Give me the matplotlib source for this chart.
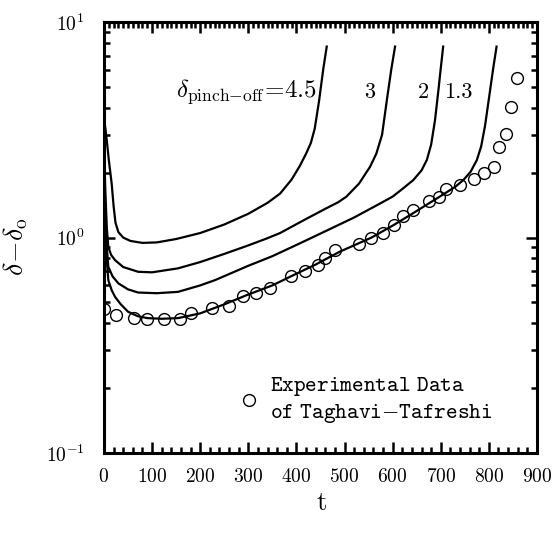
#!/usr/bin/env python3
"""Bubble growth delta - delta_o versus t, model curves and experimental points."""

import matplotlib

matplotlib.use("Agg")
import matplotlib.pyplot as plt  # noqa: E402
from matplotlib.ticker import LogLocator, MultipleLocator, NullFormatter  # noqa: E402

plt.rcParams["mathtext.fontset"] = "cm"
plt.rcParams["font.family"] = "serif"
plt.rcParams["font.serif"] = ["cmr10", "DejaVu Serif"]
plt.rcParams["axes.formatter.use_mathtext"] = True

# model curves, one per pinch-off value
t_45 = [0, 3, 6, 10, 16, 20, 24, 30, 40, 55, 80, 110, 150, 200, 250, 300, 340, 366,
        390, 407, 420, 430, 438, 447, 456, 463]
d_45 = [3.6, 3.2, 2.8, 2.3, 1.78, 1.4, 1.17, 1.06, 1.0, 0.965, 0.945, 0.95, 0.985,
        1.05, 1.15, 1.29, 1.45, 1.6, 1.86, 2.15, 2.45, 2.75, 3.2, 4.3, 6.1, 7.7]

t_3 = [0, 3, 6, 9, 15, 23, 40, 71, 100, 154, 200, 250, 300, 338, 366, 420, 460, 487,
       504, 530, 553, 566, 578, 588, 597, 605]
d_3 = [2.6, 1.6, 1.1, 0.906, 0.83, 0.786, 0.73, 0.694, 0.69, 0.72, 0.77, 0.84, 0.92,
       0.99, 1.05, 1.22, 1.36, 1.46, 1.55, 1.78, 2.13, 2.45, 3.0, 4.35, 6.0, 7.7]

t_2 = [0, 3, 6, 9, 18, 30, 50, 71, 110, 154, 200, 231, 300, 350, 407, 460, 520, 574,
       600, 620, 643, 660, 671, 680, 688, 695, 700, 705]
d_2 = [2.3, 1.3, 0.9, 0.732, 0.66, 0.613, 0.575, 0.556, 0.552, 0.56, 0.6, 0.635, 0.74,
       0.82, 0.94, 1.07, 1.24, 1.44, 1.55, 1.68, 1.85, 2.05, 2.29, 2.7, 3.5, 4.8, 6.1, 7.7]

t_13 = [0, 3, 6, 9, 16, 23, 35, 50, 70, 90, 120, 154, 200, 250, 297, 350, 394, 440,
        490, 556, 601, 643, 698, 730, 747, 762, 775, 784, 792, 800, 809, 816]
d_13 = [2.1, 1.1, 0.78, 0.635, 0.57, 0.531, 0.49, 0.453, 0.432, 0.423, 0.42, 0.423,
        0.445, 0.49, 0.541, 0.6, 0.67, 0.75, 0.86, 1.0, 1.14, 1.3, 1.55, 1.72, 1.85,
        2.02, 2.29, 2.65, 3.3, 4.4, 6.1, 7.7]

# experimental data of Taghavi-Tafreshi
t_exp = [1, 26, 62, 89, 125, 158, 180, 224, 260, 288, 317, 345, 389, 418, 445, 459,
         480, 531, 556, 580, 603, 621, 643, 676, 697, 710, 740, 770, 790, 811, 822,
         836, 845, 858]
d_exp = [0.464, 0.435, 0.422, 0.418, 0.418, 0.419, 0.445, 0.47, 0.481, 0.533, 0.551,
         0.581, 0.663, 0.701, 0.75, 0.8, 0.88, 0.933, 1.0, 1.055, 1.14, 1.26, 1.35,
         1.48, 1.55, 1.68, 1.75, 1.88, 2.0, 2.13, 2.63, 3.02, 4.02, 5.48]

curve_labels = [r"$\delta_{\mathrm{pinch{-}off}}\!=\!4.5$", "3", "2", "1.3"]
label_t = [443, 563, 676, 767]
label_d = 4.75


def main() -> None:
    fig = plt.figure(figsize=(5.59, 5.40), dpi=100)
    ax = fig.add_axes([0.186, 0.161, 0.7746, 0.798])

    for t, d in [(t_45, d_45), (t_3, d_3), (t_2, d_2), (t_13, d_13)]:
        ax.plot(t, d, color="black", lw=1.6, solid_joinstyle="round")

    ax.plot(t_exp, d_exp, "o", ms=8.5, mfc="none", mec="black", mew=1.0,
            label=r"$\mathtt{Experimental\ Data}$" + "\n"
            + r"$\mathtt{of\ Taghavi{-}Tafreshi}$")

    for i, (txt, tx) in enumerate(zip(curve_labels, label_t)):
        ax.text(tx, label_d, txt, fontsize=18 if i == 0 else 16, ha="right", va="center")

    ax.set_yscale("log")
    ax.set_xlim(0, 900)
    ax.set_ylim(0.1, 10)

    ax.xaxis.set_major_locator(MultipleLocator(100))
    ax.xaxis.set_minor_locator(MultipleLocator(20))
    ax.yaxis.set_major_locator(LogLocator(base=10))
    ax.yaxis.set_minor_locator(LogLocator(base=10, subs=range(2, 10)))
    ax.yaxis.set_minor_formatter(NullFormatter())

    ax.tick_params(which="both", direction="in", right=True, top=False, width=1.8,
                   labelsize=14)
    ax.tick_params(which="major", length=8)
    ax.tick_params(which="minor", length=4)
    ax.tick_params(axis="x", pad=11)
    ax.tick_params(axis="y", pad=14)

    top = ax.secondary_xaxis("top")
    top.xaxis.set_major_locator(MultipleLocator(100))
    top.xaxis.set_minor_locator(MultipleLocator(10))
    top.tick_params(which="both", direction="in", width=1.8, labeltop=False)
    top.tick_params(which="major", length=8)
    top.tick_params(which="minor", length=4)
    top.spines["top"].set_linewidth(2.2)

    for spine in ax.spines.values():
        spine.set_linewidth(2.2)

    ax.set_xlabel("t", fontsize=19)
    ax.xaxis.set_label_coords(0.503, -0.088)
    ax.set_ylabel(r"$\delta\!-\!\delta_{\mathrm{o}}$", fontsize=20)
    ax.yaxis.set_label_coords(-0.17, 0.48)

    ax.legend(loc="center left", bbox_to_anchor=(0.3095, 0.123), frameon=False,
              fontsize=16, handlelength=1.0, handletextpad=0.445, borderpad=0,
              borderaxespad=0, labelspacing=0.3)

    fig.savefig("out.png", dpi=100)
    plt.close(fig)


if __name__ == "__main__":
    main()
